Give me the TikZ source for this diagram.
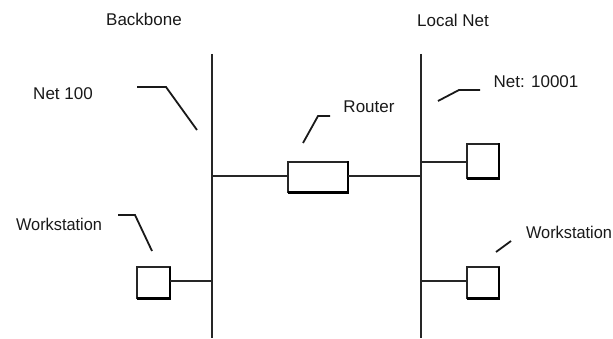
\documentclass[tikz,border=0pt]{standalone}
\usepackage{fontspec}
\setmainfont{Liberation Sans}
\begin{document}
\begin{tikzpicture}[x=1pt,y=-1pt,
  bus/.style={line width=1.1pt,draw=black!85},
  wire/.style={line width=1.1pt,draw=black!85},
  leader/.style={line width=1.8pt,draw=black!90},
  lbl/.style={font=\fontsize{17}{19}\selectfont,inner sep=0pt,text=black!90},
  boxlt/.style={line width=1.1pt,draw=black!85}]
\useasboundingbox (0,0) rectangle (613,339);
% buses
\coordinate (bbT) at (212,54); \coordinate (bbB) at (212,338);
\coordinate (lnT) at (421,54); \coordinate (lnB) at (421,338);
\draw[bus] (bbT) -- (bbB);
\draw[bus] (lnT) -- (lnB);
% labels
\node[lbl] (backbone) at (144,19) {Backbone};
\node[lbl] (localnet) at (453,20) {Local Net};
\node[lbl] (net100) at (63,94) {Net 100};
\node[lbl] (router) at (369,107) {Router};
\node[lbl] (net10001) at (536,82) {Net: 10001};
\node[lbl,xscale=0.96] (wsl) at (59,224) {Workstation};
\node[lbl,xscale=0.96] (wsr) at (569,232) {Workstation};
% router box
\coordinate (rtA) at (288,162); \coordinate (rtB) at (348,192);
\draw[boxlt] (rtA) rectangle (rtB);
\draw[line width=2.2pt] (348,161.5) -- (348,192.5) -- (288,192.5);
% workstation boxes
\draw[boxlt] (467,144) rectangle (499,178);
\draw[line width=2.2pt] (499,143.5) -- (499,178.5) -- (467,178.5);
\draw[boxlt] (467,267) rectangle (499,298);
\draw[line width=2.2pt] (499,266.5) -- (499,298.5) -- (467,298.5);
\draw[boxlt] (137,267) rectangle (170,298);
\draw[line width=2.2pt] (170,266.5) -- (170,298.5) -- (137,298.5);
% connections
\coordinate (bbR) at (212,176); \coordinate (rtL) at (288,176);
\coordinate (rtR) at (348,176); \coordinate (lnR) at (421,176);
\draw[wire] (bbR) -- (rtL);
\draw[wire] (rtR) -- (lnR);
\draw[wire] (421,162) -- (467,162);
\draw[wire] (421,281) -- (467,281);
\draw[wire] (170,281) -- (212,281);
% leaders
\draw[leader] (137,87) -- (166,87) -- (197,130);
\draw[leader] (330,116) -- (318,116) -- (303,143);
\draw[leader] (480,90) -- (459,90) -- (438,101);
\draw[leader] (118,215) -- (135,215) -- (152,251);
\draw[leader] (511,241) -- (496,252);
\end{tikzpicture}
\end{document}
